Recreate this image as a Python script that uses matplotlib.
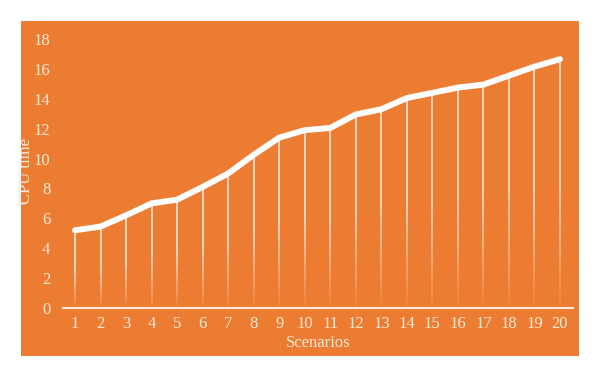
import numpy as np
import matplotlib.pyplot as plt

# ── data ──
scenarios = list(range(1, 21))
cpu_time = [5.2, 5.45, 6.2, 7.0, 7.25, 8.1, 9.0, 10.25, 11.4, 11.9,
            12.05, 12.95, 13.3, 14.05, 14.4, 14.75, 14.95, 15.55, 16.15, 16.65]
y_ticks = [0, 2, 4, 6, 8, 10, 12, 14, 16, 18]

ORANGE = "#EC7C31"
TEXT = "#FCE9DA"

plt.rcParams["font.family"] = ["Liberation Serif", "DejaVu Serif"]

fig = plt.figure(figsize=(6.0, 3.77), dpi=100)
fig.patch.set_facecolor("white")

# orange panel behind the chart
bg = fig.add_axes([21 / 600, 1 - 356 / 377, 558 / 600, 335 / 377], zorder=-1)
bg.set_facecolor(ORANGE)
bg.set_xticks([])
bg.set_yticks([])
for s in bg.spines.values():
    s.set_visible(False)

ax = fig.add_axes([63 / 600, 1 - 308 / 377, 510 / 600, 273 / 377], zorder=1)
ax.set_facecolor("none")
ax.set_xlim(0.53, 20.51)
ax.set_ylim(0, 18.27)

# drop lines, fading out toward the axis
n_steps = 30
for x, y in zip(scenarios, cpu_time):
    edges = np.linspace(0, y, n_steps + 1)
    for i in range(n_steps):
        a = 0.05 + 0.8 * min(1.0, (i + 0.5) / (n_steps * 0.5))
        ax.plot([x, x], [edges[i], edges[i + 1]], color="white",
                lw=1.1, alpha=a, solid_capstyle="butt", zorder=2)

ax.plot(scenarios, cpu_time, color="white", lw=4.3,
        solid_capstyle="round", solid_joinstyle="round", zorder=3)

for side in ["top", "right", "left"]:
    ax.spines[side].set_visible(False)
ax.spines["bottom"].set_color(TEXT)
ax.spines["bottom"].set_linewidth(1.5)

ax.set_xticks(scenarios)
ax.set_yticks(y_ticks)
ax.tick_params(axis="both", length=0, colors=TEXT, labelsize=12)
ax.tick_params(axis="y", pad=9)
ax.tick_params(axis="x", pad=6)

ax.set_xlabel("Scenarios", color=TEXT, fontsize=12, labelpad=2)
ax.set_ylabel("CPU time", color=TEXT, fontsize=12, labelpad=0)

plt.savefig("out.png", dpi=100)
